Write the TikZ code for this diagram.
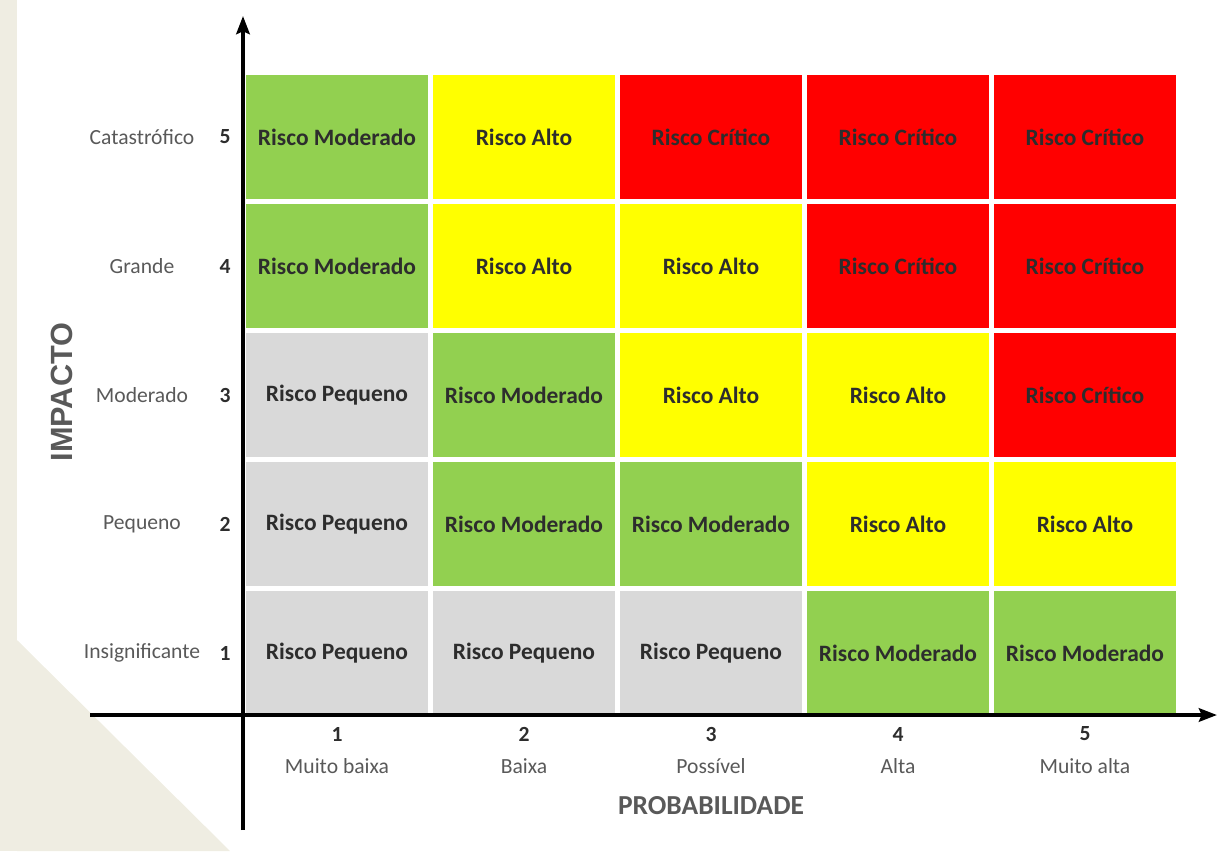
\documentclass[tikz,border=0pt]{standalone}
\usepackage{fontspec}
\setmainfont{Carlito}
\newfontfamily\arialfont{Liberation Sans}
\usepackage{xcolor}
\definecolor{beige}{RGB}{239,237,226}
\definecolor{verde}{RGB}{146,208,80}
\definecolor{amarelo}{RGB}{255,255,0}
\definecolor{vermelho}{RGB}{255,0,0}
\definecolor{cinza}{RGB}{217,217,217}
\definecolor{rotulo}{RGB}{89,89,89}
\definecolor{texto}{RGB}{45,45,45}
\usetikzlibrary{arrows.meta}
\usetikzlibrary{positioning}

\begin{document}
\begin{tikzpicture}[x=0.75pt,y=-0.75pt,
  cell/.style={rectangle,minimum width=137pt,minimum height=93pt,inner sep=0pt,text=texto,font=\fontsize{17.6}{20}\selectfont\bfseries},
  mod/.style={fill=verde,node contents={Risco Moderado}},
  alto/.style={fill=amarelo,node contents={Risco Alto}},
  crit/.style={fill=vermelho,node contents={Risco Crítico}},
  peq/.style={fill=cinza,node contents={Risco Pequeno}},
  nivel/.style={text=rotulo,font=\fontsize{16.2}{19}\selectfont},
  num/.style={text=texto,font=\fontsize{16.2}{19}\selectfont\bfseries},
  eixo/.style={line width=3pt,-{Stealth[length=13.5pt,width=10pt,inset=2pt]}}]
\useasboundingbox (0,0) rectangle (1218,851);

%background corner
\fill[beige] (0,0) rectangle (17,851);
\fill[beige] (17,640) -- (230,851) -- (17,851) -- cycle;

%risk cells
\foreach \j/\linha in {5/{mod,alto,crit,crit,crit},4/{mod,alto,alto,crit,crit},3/{peq,mod,alto,alto,crit},2/{peq,mod,mod,alto,alto},1/{peq,peq,peq,mod,mod}}{
  \foreach \c [count=\i] in \linha{
    {\pgfmathsetmacro{\px}{337+187*(\i-1)}
    \pgfmathsetmacro{\py}{137+129*(5-\j)}
    \node (c\i\j) at (\px,\py) [cell,\c];}
  }
}

%impact levels
\foreach \j/\nome in {5/Catastrófico,4/Grande,3/Moderado,2/Pequeno,1/Insignificante}{
  {\pgfmathsetmacro{\py}{137+129*(5-\j)}
  \node (n\j) at (225,\py) [num] {\j};
  \node (l\j) at (142,\py) [nivel] {\nome};}
}

%probability levels
\foreach \i/\nome in {1/Muito baixa,2/Baixa,3/Possível,4/Alta,5/Muito alta}{
  {\pgfmathsetmacro{\px}{337+187*(\i-1)}
  \node (p\i) at (\px,734) [num] {\i};
  \node (q\i) at (\px,766) [nivel] {\nome};}
}

%axes
\coordinate (ybot) at (243,830);
\coordinate (ytop) at (243,16);
\coordinate (xleft) at (90,715);
\coordinate (xright) at (1217,715);
\draw[eixo] (ybot) -- (ytop);
\draw[eixo] (xleft) -- (xright);

%axis titles
\node (prob) at (711,806) [text=rotulo,font=\fontsize{20.6}{24}\selectfont\bfseries] {PROBABILIDADE};
\node (imp) at (62,392) [rotate=90,text=rotulo,font=\arialfont\fontsize{23}{26}\selectfont\bfseries] {IMPACTO};
\end{tikzpicture}
\end{document}
